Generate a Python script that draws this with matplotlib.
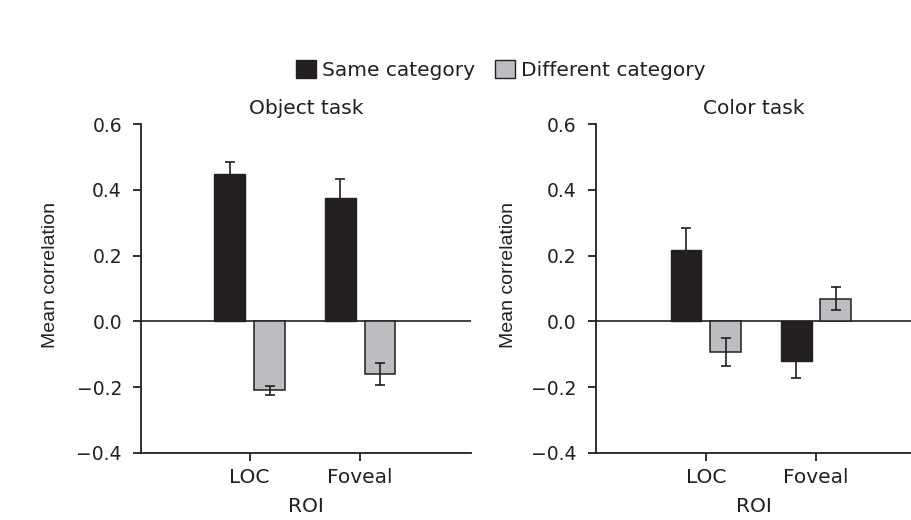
import matplotlib.pyplot as plt
import numpy as np
from matplotlib.patches import Patch

# the reference text is a slightly wide sans, DejaVu fits its proportions
plt.rcParams['font.family'] = ['DejaVu Sans']

# data
rois = ["LOC", "Foveal"]
tasks = ["Object task", "Color task"]
same_mean = [[0.448, 0.374], [0.216, -0.122]]
same_err = [[0.036, 0.058], [0.068, 0.050]]
diff_mean = [[-0.210, -0.160], [-0.094, 0.069]]
diff_err = [[0.013, 0.033], [0.042, 0.035]]
yticks = [-0.4, -0.2, 0.0, 0.2, 0.4, 0.6]
ytick_labels = ["\u22120.4", "\u22120.2", "0.0", "0.2", "0.4", "0.6"]

ink = "#231f20"
grey = "#bcbdc0"

fig = plt.figure(figsize=(9.12, 5.2), dpi=100)
ax1 = fig.add_axes([0.155, 0.129, 0.361, 0.6325])
ax2 = fig.add_axes([0.653, 0.129, 0.347, 0.6325])

x = np.arange(1, len(rois) + 1)
w = 0.28
off = 0.18

for i, ax in enumerate([ax1, ax2]):
    ax.axhline(0, color=ink, lw=1.2, zorder=1)
    ax.bar(x - off, same_mean[i], w, color=ink, edgecolor=ink, lw=1, zorder=2)
    ax.bar(x + off, diff_mean[i], w, color=grey, edgecolor=ink, lw=1.1, zorder=2)
    ax.errorbar(x - off, same_mean[i], yerr=same_err[i], fmt="none",
                ecolor=ink, elinewidth=1.2, capsize=3.3, capthick=1.2, zorder=3)
    ax.errorbar(x + off, diff_mean[i], yerr=diff_err[i], fmt="none",
                ecolor=ink, elinewidth=1.2, capsize=3.3, capthick=1.2, zorder=3)
    ax.set_ylim(-0.4, 0.6)
    ax.set_yticks(yticks)
    ax.set_yticklabels(ytick_labels, fontsize=13.5)
    ax.set_xticks(x)
    ax.set_xticklabels(rois, fontsize=14.5)
    ax.set_title(tasks[i], fontsize=14.5, color=ink, pad=7)
    ax.set_ylabel("Mean correlation", fontsize=14, color=ink,
                  family="Liberation Sans", va="center")
    ax.yaxis.set_label_coords(-0.275, 0.54)
    ax.set_xlabel("ROI", fontsize=14.5, color=ink)
    ax.xaxis.set_label_coords(0.5, -0.135)
    for s in ["top", "right"]:
        ax.spines[s].set_visible(False)
    for s in ["left", "bottom"]:
        ax.spines[s].set_color(ink)
        ax.spines[s].set_linewidth(1.3)
    ax.tick_params(direction="out", length=6, width=1.3, colors=ink, pad=5)
    ax.tick_params(axis="y", pad=8)

ax1.set_xlim(0.02, 3.0)
ax2.set_xlim(0.0, 2.87)

handles = [Patch(facecolor=ink, edgecolor=ink, label="Same category"),
           Patch(facecolor=grey, edgecolor=ink, label="Different category")]
fig.legend(handles=handles, loc="center", bbox_to_anchor=(501 / 912, 1 - 70 / 520),
           ncol=2, frameon=False, fontsize=14.5, handlelength=1.0, handleheight=1.0,
           handletextpad=0.3, columnspacing=1.0, labelcolor=ink)

fig.savefig("out.png", dpi=100)
